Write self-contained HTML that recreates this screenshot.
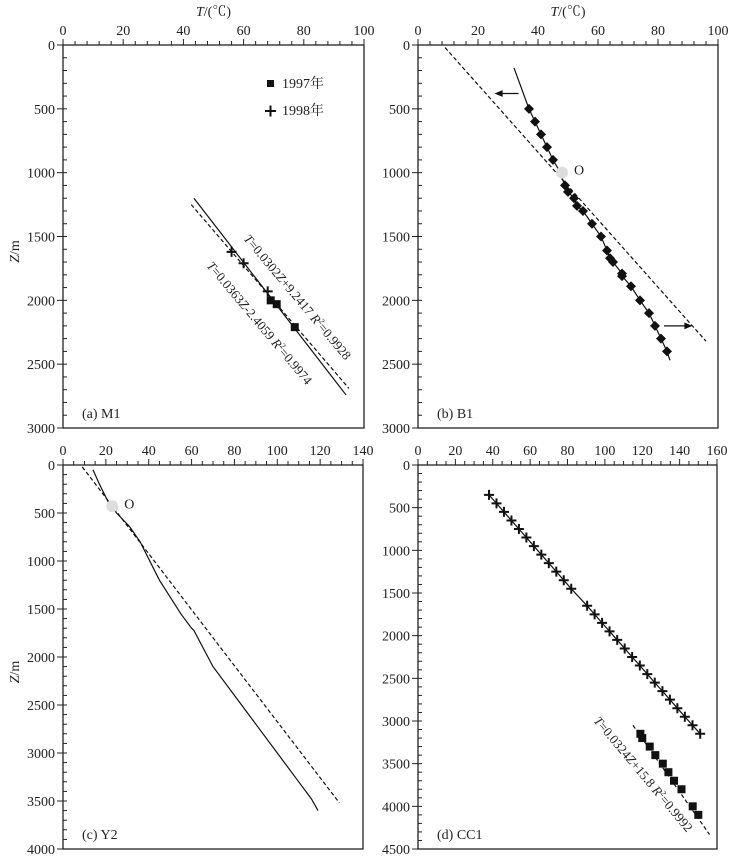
<!DOCTYPE html>
<html><head><meta charset="utf-8"><style>
body{margin:0;background:#fff}
svg text{font-family:"Liberation Serif","Noto Serif CJK SC",serif;fill:#222}
</style></head><body>
<svg id="fig" width="735" height="862" viewBox="0 0 735 862" xmlns="http://www.w3.org/2000/svg"></svg>
<script>
// ---- Panel (a) M1 data
const aCrossT=[56,60,68];
const aCrossZ=[1620,1710,1930];
const aSqT=[69,71,77];
const aSqZ=[2000,2030,2210];
const aSolidT=[43.5,94];
const aSolidZ=[1200,2740];
const aDashT=[42.6,95];
const aDashZ=[1250,2690];
// ---- Panel (b) B1 data
const bDiaT=[37,39,41,43,45,49,50,52,53,55,58,61,63,64,65,68,68,71,74,77,79,81,83];
const bDiaZ=[500,600,700,800,900,1100,1150,1200,1260,1300,1400,1500,1610,1670,1700,1790,1810,1890,2000,2100,2200,2300,2400];
const bLineT=[32,37,39,41,43,45,47,49,50,52,53,55,58,61,63,64,65,68,68,71,74,77,79,81,83,84];
const bLineZ=[180,500,600,700,800,900,980,1100,1150,1200,1260,1300,1400,1500,1610,1670,1700,1790,1810,1890,2000,2100,2200,2300,2400,2470];
const bDashT=[9,96];
const bDashZ=[20,2320];
const bOT=[48];
const bOZ=[1000];
// ---- Panel (c) Y2 data
const cLineT=[14,17,21,25,31,36,45,55,60,61,70,80,90,100,110,116,119];
const cLineZ=[50,200,380,500,640,800,1200,1550,1700,1720,2100,2400,2700,3000,3300,3480,3600];
const cDashT=[9,129];
const cDashZ=[20,3520];
const cOT=[23];
const cOZ=[430];
// ---- Panel (d) CC1 data
const dCrossT=[38,42,46,50,54,58,62,66,70,74,78,82,90.5,94.5,98.5,102.5,106.6,110.6,114.6,118.7,122.7,126.7,130.8,134.8,138.8,142.8,146.9,151];
const dCrossZ=[350,450,550,650,750,850,950,1050,1150,1250,1350,1450,1650,1750,1850,1950,2050,2150,2250,2350,2450,2550,2650,2750,2850,2950,3050,3150];
const dSqT=[119,120,124,127,131,134,137,141,147,150];
const dSqZ=[3150,3200,3300,3400,3500,3600,3700,3800,4000,4100];
const dDashT=[115,156];
const dDashZ=[3050,4330];
// ---- Axis tick labels
const abXTicks=[0,20,40,60,80,100];
const abYTicks=[0,500,1000,1500,2000,2500,3000];
const cXTicks=[0,20,40,60,80,100,120,140];
const cYTicks=[0,500,1000,1500,2000,2500,3000,3500,4000];
const dXTicks=[0,20,40,60,80,100,120,140,160];
const dYTicks=[0,500,1000,1500,2000,2500,3000,3500,4000,4500];

const NS="http://www.w3.org/2000/svg";
const svg=document.getElementById('fig');
function mk(tag,attrs,parent){const e=document.createElementNS(NS,tag);for(const k in attrs)e.setAttribute(k,attrs[k]);(parent||svg).appendChild(e);return e;}

function panel(id,L,R,T,B,xmax,ymax,xminor,yminor,xticks,yticks,label,showTitle,showYTitle){
  const g=mk('g',{});
  
  
  const sx=v=>L+(v/xmax)*(R-L);
  const sy=v=>T+(v/ymax)*(B-T);
  const frame=mk('rect',{x:L,y:T,width:R-L,height:B-T,fill:'none',stroke:'#222','stroke-width':1.3},g);
  
  
  for(let v=0;v<=xmax+1e-6;v+=xminor){
    const maj=xticks.some(t=>Math.abs(t-v)<1e-6);
    const t=mk('line',{x1:sx(v),x2:sx(v),y1:T,y2:T-(maj?6:4),stroke:'#222','stroke-width':1},g);
    
    
  }
  xticks.forEach(v=>{
    const t=mk('text',{x:sx(v),y:T-10,'text-anchor':'middle','font-size':14},g);
    
    
    t.textContent=v;
  });
  for(let v=0;v<=ymax+1e-6;v+=yminor){
    const maj=yticks.some(t=>Math.abs(t-v)<1e-6);
    const t=mk('line',{x1:maj?L-6:L,x2:L+4,y1:sy(v),y2:sy(v),stroke:'#222','stroke-width':1},g);
    
    
  }
  yticks.forEach(v=>{
    const t=mk('text',{x:L-8,y:sy(v)+5,'text-anchor':'end','font-size':14},g);
    
    
    t.textContent=v;
  });
  if(showTitle){
    const t=mk('text',{x:(L+R)/2,y:T-29,'text-anchor':'middle','font-size':14},g);
    
    
    t.innerHTML='<tspan font-style="italic">T</tspan>/(℃)';
  }
  if(showYTitle){
    const cy=(T+B)/2+15;
    const t=mk('text',{x:19,y:cy,'text-anchor':'middle','font-size':14,transform:`rotate(-90 19 ${cy})`},g);
    
    
    t.innerHTML='<tspan font-style="italic">Z</tspan>/m';
  }
  const lb=mk('text',{x:L+19,y:B-10,'font-size':14},g);
  
  
  lb.textContent=label;
  return {g,sx,sy};
}
function polyline(p,Ts,Zs,dash,name){
  const pts=Ts.map((t,i)=>p.sx(t)+','+p.sy(Zs[i])).join(' ');
  const e=mk('polyline',{points:pts,fill:'none',stroke:'#111','stroke-width':1.2,'stroke-dasharray':dash?'4,2.5':'none'},p.g);
  
  
}
function crosses(p,Ts,Zs,name){
  Ts.forEach((t,i)=>{
    const x=p.sx(t),y=p.sy(Zs[i]);
    const e=mk('path',{d:`M${x-5} ${y}H${x+5}M${x} ${y-5}V${y+5}`,stroke:'#111','stroke-width':2},p.g);
    
    
  });
}
function squares(p,Ts,Zs,name,size){
  Ts.forEach((t,i)=>{
    const x=p.sx(t),y=p.sy(Zs[i]);
    const e=mk('rect',{x:x-size/2,y:y-size/2,width:size,height:size,fill:'#111'},p.g);
    
    
  });
}
function diamonds(p,Ts,Zs,name){
  Ts.forEach((t,i)=>{
    const x=p.sx(t),y=p.sy(Zs[i]);
    const e=mk('path',{d:`M${x} ${y-5}L${x+5} ${y}L${x} ${y+5}L${x-5} ${y}Z`,fill:'#111'},p.g);
    
    
  });
}
function opoint(p,t,z){
  const c=mk('circle',{cx:p.sx(t),cy:p.sy(z),r:6,fill:'#ddd'},p.g);
  
  
  const tx=mk('text',{x:p.sx(t)+12,y:p.sy(z)+2,'font-size':14},p.g);
  
  
  tx.textContent='O';
}
function rotText(p,x,y,ang,html,name){
  const t=mk('text',{x:x,y:y,'font-size':13,transform:`rotate(${ang} ${x} ${y})`},p.g);
  
  
  t.innerHTML=html;
}
function arrow(p,t1,t2,z,name){
  const x1=p.sx(t1),x2=p.sx(t2),y=p.sy(z);
  const d=x2>x1?1:-1;
  const e=mk('path',{d:`M${x1} ${y}H${x2}M${x2} ${y}l${-6*d} -2.5v5z`,stroke:'#111','stroke-width':1.2,fill:'#111'},p.g);
  
  
}

// (a)
const pa=panel('a',63,364,45,428,100,3000,4,100,abXTicks,abYTicks,'(a) M1',true,true);
polyline(pa,aSolidT,aSolidZ,false,'fit-line-1997');
polyline(pa,aDashT,aDashZ,true,'fit-line-1998');
crosses(pa,aCrossT,aCrossZ,'point-1998');
squares(pa,aSqT,aSqZ,'point-1997',8);
rotText(pa,243,239,50,'<tspan font-style="italic">T</tspan>=0.0302<tspan font-style="italic">Z</tspan>+9.2417 <tspan font-style="italic">R</tspan><tspan font-size="8" dy="-5">2</tspan><tspan dy="5">=0.9928</tspan>','equation-1998');
rotText(pa,206,266,50,'<tspan font-style="italic">T</tspan>=0.0363<tspan font-style="italic">Z</tspan>-2.4059 <tspan font-style="italic">R</tspan><tspan font-size="8" dy="-5">2</tspan><tspan dy="5">=0.9974</tspan>','equation-1997');
{const lg=mk('g',{});
 const s=mk('rect',{x:267,y:80,width:7,height:7,fill:'#111'},lg);
 const t1=mk('text',{x:282,y:88,'font-size':14},lg);t1.textContent='1997年';
 const c=mk('path',{d:'M265 111H276M270.5 105.5V116.5',stroke:'#111','stroke-width':2},lg);
 const t2=mk('text',{x:282,y:115,'font-size':14},lg);t2.textContent='1998年';}

// (b)
const pb=panel('b',418,718,45,428,100,3000,4,100,abXTicks,abYTicks,'(b) B1',true,false);
polyline(pb,bDashT,bDashZ,true,'reference-line');
polyline(pb,bLineT,bLineZ,false,'temperature-profile');
diamonds(pb,bDiaT,bDiaZ,'measured-point');
opoint(pb,bOT[0],bOZ[0]);
arrow(pb,33.5,26,380,'arrow-left');
arrow(pb,82,91,2200,'arrow-right');

// (c)
const pc=panel('c',63,363,465,849,140,4000,5,100,cXTicks,cYTicks,'(c) Y2',false,true);
polyline(pc,cDashT,cDashZ,true,'reference-line');
polyline(pc,cLineT,cLineZ,false,'temperature-profile');
opoint(pc,cOT[0],cOZ[0]);

// (d)
const pd=panel('d',418,717,465,849,160,4500,5,100,dXTicks,dYTicks,'(d) CC1',false,false);
polyline(pd,dCrossT,dCrossZ,false,'profile-line');
crosses(pd,dCrossT,dCrossZ,'measured-point-cross');
polyline(pd,dDashT,dDashZ,true,'fit-line');
squares(pd,dSqT,dSqZ,'measured-point-square',8);
rotText(pd,593,721,50,'<tspan font-style="italic">T</tspan>=0.0324<tspan font-style="italic">Z</tspan>+15.8 <tspan font-style="italic">R</tspan><tspan font-size="8" dy="-5">2</tspan><tspan dy="5">=0.9992</tspan>','equation-fit');
</script>
</body></html>
